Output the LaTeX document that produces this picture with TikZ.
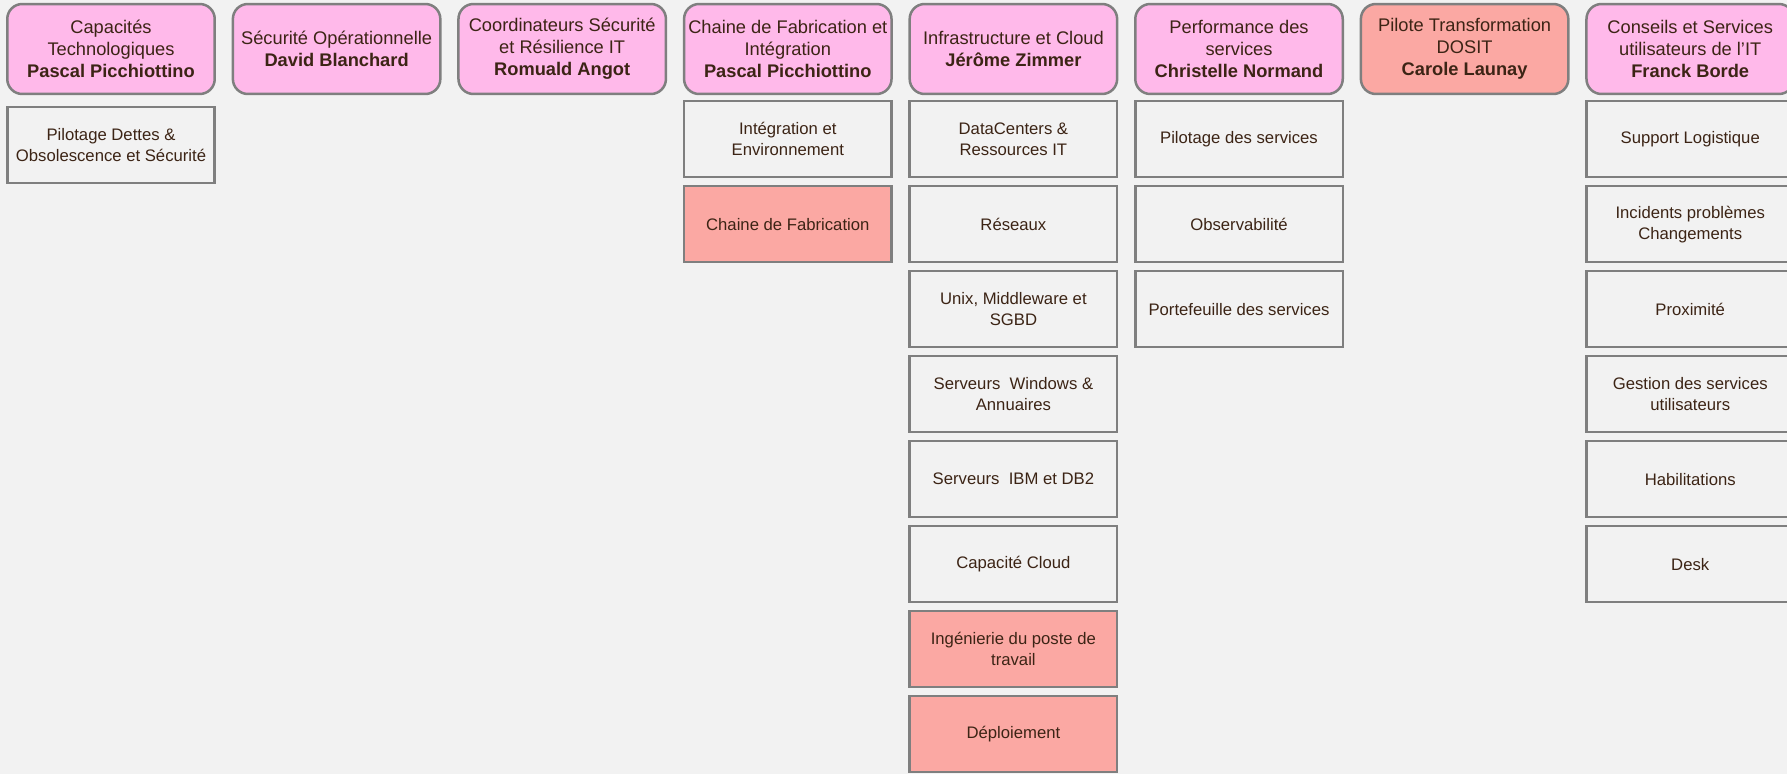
\documentclass[tikz,border=0pt]{standalone}
\usepackage{fontspec}
\setmainfont{Liberation Sans}
\usetikzlibrary{positioning}

\definecolor{bgcol}{HTML}{F2F2F2}
\definecolor{pinkcol}{HTML}{FFB9EA}
\definecolor{salmoncol}{HTML}{FBA8A3}
\definecolor{edgecol}{HTML}{7F7F7F}
\definecolor{txtcol}{HTML}{3C2415}

\tikzset{
  hdr/.style={draw=edgecol, fill=pinkcol, line width=0.05cm, rounded corners=0.3cm,
    minimum width=4.15cm, minimum height=1.8cm, align=center, outer sep=0pt,
    text=txtcol, font=\fontsize{10.4pt}{12.5pt}\selectfont, inner sep=1pt},
  hdrhot/.style={hdr, fill=salmoncol},
  unit/.style={draw=edgecol, fill=bgcol, line width=0.05cm,
    minimum width=4.15cm, minimum height=1.52cm, align=center, outer sep=0pt,
    text=txtcol, font=\fontsize{9.5pt}{11.9pt}\selectfont, inner sep=1pt},
  unithot/.style={unit, fill=salmoncol},
  node distance=0.18cm
}

\begin{document}
\begin{tikzpicture}[x=0.02cm, y=-0.02cm]
\useasboundingbox (0,0) rectangle (1787,774);
\fill[bgcol] (0,0) rectangle (1787,774);

% directions
\node[hdr] (hdrCap) at (111,49) {Capacités\\Technologiques\\\textbf{Pascal Picchiottino}};
\node[hdr] (hdrSec) at (336.6,49) {Sécurité Opérationnelle\\\textbf{David Blanchard}};
\node[hdr] (hdrCoord) at (562.2,49) {Coordinateurs Sécurité\\et Résilience IT\\\textbf{Romuald Angot}};
\node[hdr] (hdrChaine) at (787.8,49) {Chaine de Fabrication et\\Intégration\\\textbf{Pascal Picchiottino}};
\node[hdr] (hdrInfra) at (1013.4,49) {Infrastructure et Cloud\\\textbf{Jérôme Zimmer}};
\node[hdr] (hdrPerf) at (1239,49) {Performance des\\services\\\textbf{Christelle Normand}};
\node[hdrhot] (hdrPilote) at (1464.6,49) {Pilote Transformation\\DOSIT\\\textbf{Carole Launay}};
\node[hdr] (hdrConseil) at (1690.2,49) {Conseils et Services\\utilisateurs de l’IT\\\textbf{Franck Borde}};

% capacites
\node[unit, below=0.26cm of hdrCap] (capDettes) {Pilotage Dettes \&\\Obsolescence et Sécurité};

% chaine de fabrication
\node[unit, below=0.145cm of hdrChaine] (chaineInteg) {Intégration et\\Environnement};
\node[unithot, below=of chaineInteg] (chaineFab) {Chaine de Fabrication};

% infrastructure
\node[unit, below=0.145cm of hdrInfra] (infraDC) {DataCenters \&\\Ressources IT};
\node[unit, below=of infraDC] (infraRes) {Réseaux};
\node[unit, below=of infraRes] (infraUnix) {Unix, Middleware et\\SGBD};
\node[unit, below=of infraUnix] (infraWin) {Serveurs~ Windows \&\\Annuaires};
\node[unit, below=of infraWin] (infraIBM) {Serveurs~ IBM et DB2};
\node[unit, below=of infraIBM] (infraCloud) {Capacité Cloud};
\node[unithot, below=of infraCloud] (infraPoste) {Ingénierie du poste de\\travail};
\node[unithot, below=of infraPoste] (infraDeploy) {Déploiement};

% performance
\node[unit, below=0.145cm of hdrPerf] (perfPilot) {Pilotage des services};
\node[unit, below=of perfPilot] (perfObs) {Observabilité};
\node[unit, below=of perfObs] (perfPort) {Portefeuille des services};

% conseils
\node[unit, below=0.145cm of hdrConseil] (cslSupport) {Support Logistique};
\node[unit, below=of cslSupport] (cslIncid) {Incidents problèmes\\Changements};
\node[unit, below=of cslIncid] (cslProx) {Proximité};
\node[unit, below=of cslProx] (cslGest) {Gestion des services\\utilisateurs};
\node[unit, below=of cslGest] (cslHab) {Habilitations};
\node[unit, below=of cslHab] (cslDesk) {Desk};
\end{tikzpicture}
\end{document}
